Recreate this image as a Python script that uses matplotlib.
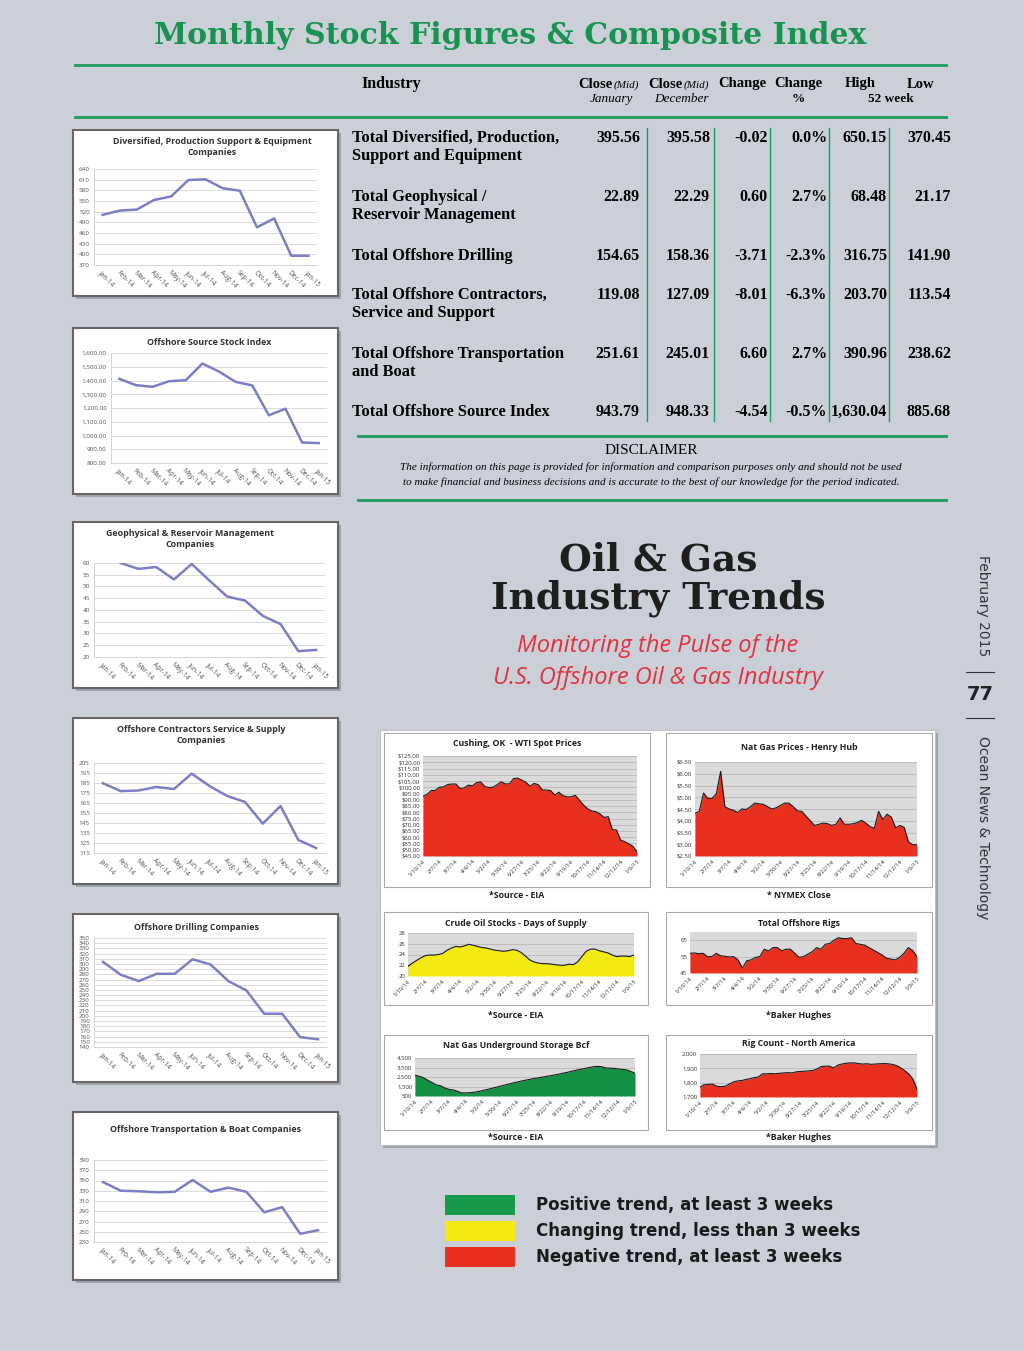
import numpy as np
import matplotlib
matplotlib.use('Agg')
import matplotlib.pyplot as plt
from matplotlib.patches import Rectangle
from matplotlib.lines import Line2D

# ---- data ----
months = ['Jan-14', 'Feb-14', 'Mar-14', 'Apr-14', 'May-14', 'Jun-14', 'Jul-14',
          'Aug-14', 'Sep-14', 'Oct-14', 'Nov-14', 'Dec-14', 'Jan-15']
diversified = [511, 523, 526, 553, 563, 609, 611, 586, 579, 476, 501, 396, 396]
source_index = [1412, 1366, 1354, 1395, 1402, 1523, 1465, 1390, 1364, 1147, 1195, 949, 945]
geophysical = [np.nan, 60, 57.5, 58.3, 53, 59.6, 52.5, 45.7, 44, 37.5, 34, 22.5, 23]
contractors = [184.8, 176.9, 177.5, 181, 179, 194.4, 182, 172, 166, 144.4, 162, 128, 120]
drilling = [304, 279, 267, 281, 281, 309, 299, 267, 249, 204, 204, 159, 155]
transport = [347, 330, 329, 327, 328, 351, 328, 336, 328, 288, 298, 246, 253]

week_labels = ['1/10/14', '2/7/14', '3/7/14', '4/4/14', '5/2/14', '5/30/14', '6/27/14',
               '7/25/14', '8/22/14', '9/19/14', '10/17/14', '11/14/14', '12/12/14', '1/9/15']
wti = [92.7, 94.4, 97.3, 97.5, 100.0, 100.3, 102.2, 102.6, 102.6, 98.9,
       99.5, 101.7, 101.1, 103.7, 104.3, 100.6, 99.8, 100.0, 102.0, 104.4,
       102.7, 102.7, 106.9, 107.3, 105.7, 104.0, 100.8, 103.1, 102.1, 97.9,
       97.7, 97.4, 93.7, 96.0, 93.3, 92.3, 92.4, 93.5, 89.7, 85.8,
       82.8, 81.0, 80.5, 78.7, 75.8, 76.5, 66.2, 65.8, 57.8, 56.5,
       54.7, 52.7, 48.4]
henry_hub = [4.32, 4.40, 5.18, 4.95, 4.95, 5.15, 6.10, 4.60, 4.50, 4.45,
             4.35, 4.50, 4.48, 4.60, 4.75, 4.72, 4.70, 4.60, 4.50, 4.55,
             4.65, 4.75, 4.75, 4.60, 4.42, 4.40, 4.20, 4.00, 3.80, 3.85,
             3.90, 3.88, 3.80, 3.85, 4.12, 3.85, 3.85, 3.87, 3.92, 4.02,
             3.90, 3.75, 3.68, 4.40, 4.05, 4.28, 4.15, 3.70, 3.80, 3.72,
             3.10, 2.98, 2.98]
crude_days = [21.8, 22.4, 22.9, 23.4, 23.8, 23.9, 23.9, 24.0, 24.2, 24.8,
              25.2, 25.5, 25.4, 25.6, 25.9, 25.7, 25.5, 25.3, 25.2, 25.0,
              24.8, 24.7, 24.6, 24.7, 24.9, 24.8, 24.4, 23.7, 23.0, 22.6,
              22.4, 22.3, 22.3, 22.2, 22.1, 22.0, 22.0, 22.2, 22.1, 22.6,
              23.6, 24.6, 25.0, 25.0, 24.7, 24.5, 24.3, 23.9, 23.6, 23.7,
              23.7, 23.6, 23.9]
offshore_rigs = [57, 57.2, 56.8, 57, 55, 55, 57, 55.5, 55.2, 54.8,
                 55, 53, 48, 52.5, 53, 54.5, 55, 59.5, 58.5, 60.5,
                 60.5, 58.5, 59.5, 59.5, 57, 54.5, 55, 56.5, 58, 60.5,
                 59.5, 62.5, 63, 65, 66.5, 66, 66, 66.5, 63, 62.5,
                 62, 60.5, 59, 57.5, 56, 54, 53.5, 53, 54.5, 57,
                 60.5, 58.7, 55]
storage = [2687, 2580, 2423, 2160, 1923, 1673, 1580, 1350, 1200, 1140,
           1000, 822, 826, 850, 897, 970, 1076, 1180, 1286, 1400,
           1510, 1629, 1740, 1850, 1950, 2060, 2150, 2240, 2330, 2400,
           2480, 2560, 2640, 2710, 2800, 2900, 2990, 3100, 3200, 3300,
           3390, 3480, 3570, 3611, 3600, 3460, 3430, 3410, 3350, 3300,
           3250, 3080, 2900]
rig_count = [1770, 1785, 1788, 1790, 1775, 1772, 1775, 1790, 1805, 1812,
             1815, 1822, 1828, 1835, 1840, 1862, 1862, 1864, 1862, 1865,
             1868, 1870, 1868, 1875, 1878, 1880, 1882, 1885, 1895, 1912,
             1915, 1915, 1903, 1922, 1930, 1935, 1938, 1938, 1933, 1930,
             1932, 1928, 1930, 1932, 1933, 1932, 1928, 1920, 1905, 1885,
             1862, 1825, 1755]

industries = ['Total Diversified, Production,\nSupport and Equipment',
              'Total Geophysical /\nReservoir Management',
              'Total Offshore Drilling',
              'Total Offshore Contractors,\nService and Support',
              'Total Offshore Transportation\nand Boat',
              'Total Offshore Source Index']
close_jan = ['395.56', '22.89', '154.65', '119.08', '251.61', '943.79']
close_dec = ['395.58', '22.29', '158.36', '127.09', '245.01', '948.33']
change = ['-0.02', '0.60', '-3.71', '-8.01', '6.60', '-4.54']
change_pct = ['0.0%', '2.7%', '-2.3%', '-6.3%', '2.7%', '-0.5%']
high_52 = ['650.15', '68.48', '316.75', '203.70', '390.96', '1,630.04']
low_52 = ['370.45', '21.17', '141.90', '113.54', '238.62', '885.68']

legend_labels = ['Positive trend, at least 3 weeks',
                 'Changing trend, less than 3 weeks',
                 'Negative trend, at least 3 weeks']
legend_colors = ['#149a48', '#f4ea12', '#e8301e']

# ---- page ----
W, H = 1024, 1351
fig = plt.figure(figsize=(10.24, 13.51), dpi=100)
fig.patch.set_facecolor('#cbd0d8')
GREEN = '#1f9a5e'


def fx(x):
    return x / W


def fy(y):
    return 1 - y / H


def box(x0, y0, x1, y1):
    return [fx(x0), fy(y1), (x1 - x0) / W, (y1 - y0) / H]


def rect(x0, y0, x1, y1, fc, ec='none', lw=0, z=-2, shadow=False):
    if shadow:
        fig.add_artist(Rectangle((fx(x0 + 3), fy(y1 + 3)), (x1 - x0) / W, (y1 - y0) / H,
                                 transform=fig.transFigure, fc='#9ea4ac', ec='none',
                                 zorder=z - 1))
    fig.add_artist(Rectangle((fx(x0), fy(y1)), (x1 - x0) / W, (y1 - y0) / H,
                             transform=fig.transFigure, fc=fc, ec=ec, lw=lw, zorder=z))


def hline(x0, x1, y, color=GREEN, lw=2):
    fig.add_artist(Line2D([fx(x0), fx(x1)], [fy(y), fy(y)], transform=fig.transFigure,
                          color=color, lw=lw))


def vline(x, y0, y1, color=GREEN, lw=1):
    fig.add_artist(Line2D([fx(x), fx(x)], [fy(y0), fy(y1)], transform=fig.transFigure,
                          color=color, lw=lw))


def text(x, y, s, **kw):
    fig.text(fx(x), fy(y), s, **kw)


# title + table
text(510, 36, 'Monthly Stock Figures & Composite Index', ha='center', va='center',
     fontsize=21.6, fontweight='bold', family='DejaVu Serif', color='#17934f')
hline(75, 946, 65)
hline(75, 946, 117)

serif = 'Liberation Serif'
text(361, 84, 'Industry', ha='left', va='center', fontsize=11.5, fontweight='bold', family=serif)
hdr = [(611, 'Close', 'January'), (681, 'Close', 'December')]
for cx, a, b in hdr:
    text(cx - 16, 84, a, ha='center', va='center', fontsize=10.5, fontweight='bold', family=serif)
    text(cx + 15, 85, '(Mid)', ha='center', va='center', fontsize=8, style='italic', family=serif)
    text(cx, 99, b, ha='center', va='center', fontsize=9.5, style='italic', family=serif)
text(742, 84, 'Change', ha='center', va='center', fontsize=10.5, fontweight='bold', family=serif)
text(798, 84, 'Change', ha='center', va='center', fontsize=10.5, fontweight='bold', family=serif)
text(798, 99, '%', ha='center', va='center', fontsize=9.5, fontweight='bold', family=serif)
text(860, 84, 'High', ha='center', va='center', fontsize=10.5, fontweight='bold', family=serif)
text(921, 84, 'Low', ha='center', va='center', fontsize=10.5, fontweight='bold', family=serif)
text(891, 99, '52 week', ha='center', va='center', fontsize=9.5, fontweight='bold', family=serif)

row_y = [137, 196, 255, 294, 353, 411]
col_right = [640, 710, 768, 827, 887, 951]
cols = [close_jan, close_dec, change, change_pct, high_52, low_52]
for i, yy in enumerate(row_y):
    text(352, yy - 7, industries[i], ha='left', va='top', fontsize=11.8, fontweight='bold',
         family=serif, linespacing=1.2)
    for xr, col in zip(col_right, cols):
        text(xr, yy - 7, col[i], ha='right', va='top', fontsize=11.5, fontweight='bold',
             family=serif)
for xv in [647, 714, 770, 829, 889]:
    vline(xv, 128, 421, lw=1)

hline(358, 946, 436)
text(651, 450, 'DISCLAIMER', ha='center', va='center', fontsize=11, family=serif)
text(651, 467, 'The information on this page is provided for information and comparison purposes only and should not be used',
     ha='center', va='center', fontsize=8.0, style='italic', family=serif)
text(651, 482, 'to make financial and business decisions and is accurate to the best of our knowledge for the period indicated.',
     ha='center', va='center', fontsize=8.0, style='italic', family=serif)
hline(358, 946, 500)

# headline
text(658, 560, 'Oil & Gas', ha='center', va='center', fontsize=27, fontweight='bold',
     family='DejaVu Serif', color='#1e1e1e')
text(658, 598, 'Industry Trends', ha='center', va='center', fontsize=27, fontweight='bold',
     family='DejaVu Serif', color='#1e1e1e')
text(658, 646, 'Monitoring the Pulse of the', ha='center', va='center', fontsize=17,
     style='italic', family='Open Sans', color='#e3323f')
text(658, 678, 'U.S. Offshore Oil & Gas Industry', ha='center', va='center', fontsize=17,
     style='italic', family='Open Sans', color='#e3323f')

# side strip
text(983, 606, 'February 2015', ha='center', va='center', rotation=-90, fontsize=10,
     family='DejaVu Sans', color='#333333')
text(980, 695, '77', ha='center', va='center', fontsize=14, fontweight='bold',
     family='DejaVu Sans', color='#222222')
hline(966, 994, 672, color='#333333', lw=0.8)
hline(966, 994, 718, color='#333333', lw=0.8)
text(983, 828, 'Ocean News & Technology', ha='center', va='center', rotation=-90,
     fontsize=10, family='DejaVu Sans', color='#333333')


# ---- left line charts ----
def left_chart(panel, plot, title, title_xy, values, ymin, ymax, step, fmt):
    rect(*panel, fc='white', ec='#666666', lw=1.5, shadow=True)
    ax = fig.add_axes(box(*plot))
    ax.set_facecolor('white')
    ax.plot(range(len(months)), values, color='#7c7fc6', lw=1.8, zorder=3)
    ax.set_xlim(-0.5, len(months) - 0.5)
    ax.set_ylim(ymin, ymax)
    ticks = np.arange(ymin, ymax + step / 2, step)
    ax.set_yticks(ticks)
    ax.set_yticklabels([fmt.format(t) for t in ticks], fontsize=4.5, color='#555555',
                       family='Open Sans')
    ax.yaxis.grid(True, color='#d6d6d6', lw=0.6)
    ax.set_axisbelow(True)
    ax.set_xticks(range(len(months)))
    ax.set_xticklabels(months, rotation=-45, ha='left', va='top', rotation_mode='anchor',
                       fontsize=4.8, color='#555555', family='Open Sans')
    ax.tick_params(length=0, pad=3)
    for s in ['top', 'right']:
        ax.spines[s].set_visible(False)
    for s in ['left', 'bottom']:
        ax.spines[s].set_color('#cfcfcf')
        ax.spines[s].set_linewidth(0.6)
    text(title_xy[0], title_xy[1], title, ha='center', va='center', fontsize=6.4,
         fontweight='bold', family='Open Sans', color='#333333', linespacing=1.2)


left_chart((73, 130, 338, 296), (94, 169, 317, 265),
           'Diversified, Production Support & Equipment\nCompanies', (212, 147),
           diversified, 370, 640, 30, '{:.0f}')
left_chart((73, 328, 338, 494), (111, 353, 327, 463), 'Offshore Source Stock Index',
           (209, 342), source_index, 800, 1600, 100, '{:,.2f}')
left_chart((73, 522, 338, 688), (94, 563, 325, 657),
           'Geophysical & Reservoir Management\nCompanies', (190, 539),
           geophysical, 20, 60, 5, '{:.0f}')
left_chart((73, 718, 338, 884), (94, 763, 325, 853),
           'Offshore Contractors Service & Supply\nCompanies', (201, 735),
           contractors, 115, 205, 10, '{:.0f}')
left_chart((73, 914, 338, 1082), (94, 938, 327, 1047), 'Offshore Drilling Companies',
           (196, 927), drilling, 140, 350, 10, '{:.0f}')
left_chart((73, 1112, 338, 1280), (94, 1160, 327, 1242),
           'Offshore Transportation & Boat Companies', (205, 1130),
           transport, 230, 390, 20, '{:.0f}')

# ---- right area charts ----
rect(380, 730, 935, 1145, fc='white', ec='#bbbbbb', lw=0.6, z=-4, shadow=True)


def right_chart(panel, plot, title, title_y, values, color, ymin, ymax, yticks, fmt,
                source, source_y):
    rect(*panel, fc='white', ec='#a9a9a9', lw=0.8, z=-2)
    ax = fig.add_axes(box(*plot))
    ax.set_facecolor('#dadada')
    x = np.arange(len(values))
    ax.fill_between(x, values, ymin, color=color, lw=0, zorder=2)
    ax.plot(x, values, color='#1a1a1a', lw=0.8, zorder=3)
    ax.set_xlim(0, len(values) - 1)
    ax.set_ylim(ymin, ymax)
    ax.set_yticks(yticks)
    ax.set_yticklabels([fmt.format(t) for t in yticks], fontsize=4.3, color='#333333',
                       family='Open Sans')
    ax.yaxis.grid(True, color='#b8b8b8', lw=0.6)
    ax.set_axisbelow(True)
    ax.set_xticks(range(0, len(values), 4))
    ax.set_xticklabels(week_labels, rotation=45, ha='right', va='top',
                       rotation_mode='anchor', fontsize=4.2, color='#333333',
                       family='Open Sans')
    ax.tick_params(length=0, pad=2)
    for s in ax.spines.values():
        s.set_visible(False)
    cx = (panel[0] + panel[2]) / 2
    text(cx, title_y, title, ha='center', va='center', fontsize=6.3, fontweight='bold',
         family='Open Sans', color='#222222')
    text(cx, source_y, source, ha='center', va='center', fontsize=6.3, fontweight='bold',
         family='Open Sans', color='#222222')


right_chart((384, 733, 650, 887), (423, 756, 637, 856), 'Cushing, OK  - WTI Spot Prices',
            743, wti, '#e8301e', 45, 125, np.arange(45, 126, 5), '${:.2f}',
            '*Source - EIA', 895)
right_chart((666, 733, 932, 887), (695, 762, 917, 856), 'Nat Gas Prices - Henry Hub',
            747, henry_hub, '#e8301e', 2.5, 6.5, np.arange(2.5, 6.51, 0.5), '${:.2f}',
            '* NYMEX Close', 895)
right_chart((384, 912, 648, 1005), (408, 933, 634, 976), 'Crude Oil Stocks - Days of Supply',
            923, crude_days, '#f4ea12', 20, 28, [20, 22, 24, 26, 28], '{:.0f}',
            '*Source - EIA', 1015)
right_chart((666, 912, 932, 1005), (690, 932, 917, 973), 'Total Offshore Rigs',
            923, offshore_rigs, '#e8301e', 45, 70, [45, 55, 65], '{:.0f}',
            '*Baker Hughes', 1015)
right_chart((384, 1035, 648, 1130), (415, 1058, 635, 1096), 'Nat Gas Underground Storage Bcf',
            1045, storage, '#149044', 500, 4500, [500, 1500, 2500, 3500, 4500], '{:,.0f}',
            '*Source - EIA', 1137)
right_chart((666, 1035, 932, 1130), (700, 1054, 917, 1097), 'Rig Count - North America',
            1044, rig_count, '#e8301e', 1700, 2000, [1700, 1800, 1900, 2000], '{:,.0f}',
            '*Baker Hughes', 1137)

# ---- legend ----
for i, (lab, col) in enumerate(zip(legend_labels, legend_colors)):
    y0 = 1195 + i * 26
    rect(445, y0, 515, y0 + 20, fc=col, z=1)
    text(536, y0 + 10, lab, ha='left', va='center', fontsize=12, fontweight='bold',
         family='DejaVu Sans', color='#1a1a1a')

fig.savefig('out.png', dpi=100, facecolor=fig.get_facecolor())
